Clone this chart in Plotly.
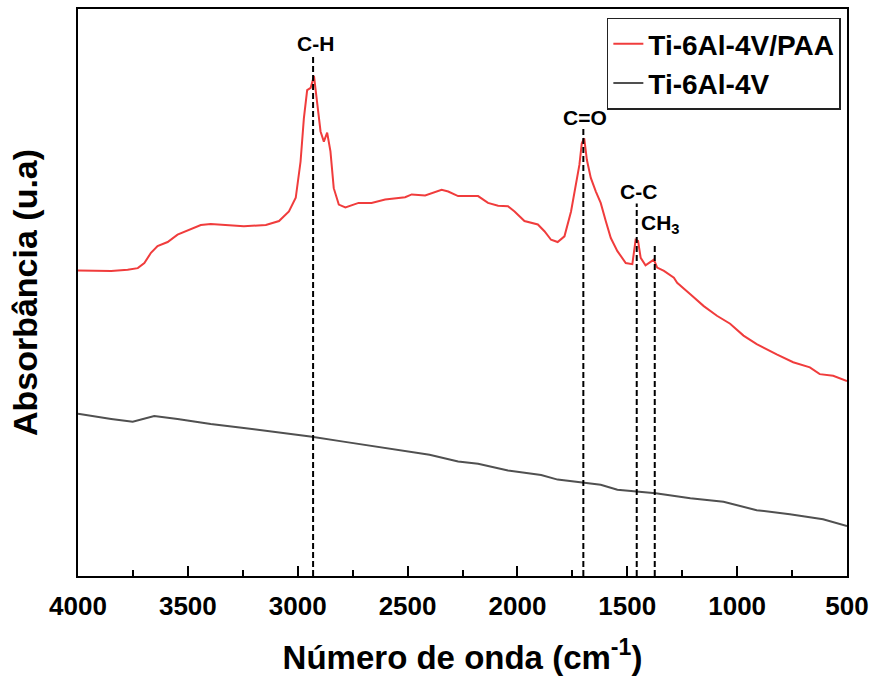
import plotly.graph_objects as go

# ---- data ----
paa_wavenumber = [4000, 3909, 3849, 3774, 3728, 3698, 3668, 3638, 3592, 3547, 3502, 3441, 3396, 3335, 3245,
                  3145, 3085, 3040, 3009, 2987, 2972, 2957, 2941, 2926, 2912, 2896, 2881, 2866, 2851, 2836,
                  2813, 2783, 2723, 2664, 2602, 2511, 2481, 2420, 2345, 2315, 2270, 2179, 2134, 2088, 2043,
                  2013, 1968, 1907, 1877, 1847, 1817, 1786, 1756, 1734, 1718, 1707, 1696, 1684, 1666, 1643,
                  1621, 1598, 1575, 1545, 1507, 1477, 1462, 1451, 1439, 1417, 1394, 1379, 1364, 1333, 1288,
                  1273, 1213, 1152, 1092, 1032, 971, 911, 820, 745, 669, 624, 563, 500]
paa_absorb = [0.539, 0.539, 0.538, 0.540, 0.543, 0.552, 0.570, 0.582, 0.589, 0.602, 0.609, 0.619, 0.621, 0.619, 0.617,
              0.619, 0.626, 0.643, 0.667, 0.731, 0.807, 0.857, 0.861, 0.882, 0.837, 0.784, 0.766, 0.782, 0.749, 0.684,
              0.655, 0.650, 0.658, 0.658, 0.664, 0.668, 0.673, 0.671, 0.681, 0.678, 0.670, 0.670, 0.658, 0.653, 0.652,
              0.643, 0.626, 0.620, 0.608, 0.593, 0.589, 0.599, 0.643, 0.690, 0.725, 0.763, 0.772, 0.734, 0.702, 0.678,
              0.658, 0.626, 0.596, 0.573, 0.552, 0.550, 0.593, 0.591, 0.561, 0.548, 0.554, 0.558, 0.544, 0.538, 0.526,
              0.517, 0.497, 0.476, 0.459, 0.445, 0.424, 0.409, 0.391, 0.377, 0.368, 0.356, 0.353, 0.344]

ti_wavenumber = [4000, 3909, 3849, 3751, 3698, 3653, 3547, 3396, 3245, 3094, 2943, 2792, 2641, 2490, 2400,
                 2270, 2179, 2043, 1892, 1817, 1699, 1621, 1545, 1454, 1371, 1213, 1062, 911, 760, 609, 500]
ti_absorb = [0.286, 0.280, 0.277, 0.272, 0.278, 0.282, 0.277, 0.268, 0.261, 0.254, 0.246, 0.237, 0.228, 0.220, 0.214,
             0.202, 0.198, 0.186, 0.178, 0.170, 0.164, 0.161, 0.152, 0.149, 0.146, 0.137, 0.131, 0.116, 0.109, 0.100, 0.088]

peak_wavenumber = [2930, 1700, 1457, 1375]
peak_labels = ["C-H", "C=O", "C-C", "CH<sub>3</sub>"]
peak_line_top = [0.919, 0.789, 0.657, 0.585]

x_ticks = [4000, 3500, 3000, 2500, 2000, 1500, 1000, 500]

FONT = "Liberation Sans, Arial, sans-serif"

fig = go.Figure()
fig.add_trace(go.Scatter(x=paa_wavenumber, y=paa_absorb, mode="lines", name="Ti-6Al-4V/PAA",
                         line=dict(color="#f03c3c", width=2)))
fig.add_trace(go.Scatter(x=ti_wavenumber, y=ti_absorb, mode="lines", name="Ti-6Al-4V",
                         line=dict(color="#505050", width=2)))

for wn, top, lab in zip(peak_wavenumber, peak_line_top, peak_labels):
    fig.add_shape(type="line", xref="x", yref="y", x0=wn, x1=wn, y0=0, y1=top,
                  line=dict(color="black", width=2, dash="6px,3px"))
    shift = 5 if "<sub>" in lab else -2
    fig.add_annotation(x=wn, y=top, xref="x", yref="y", text=lab, showarrow=False,
                       yanchor="bottom", xanchor="center", yshift=shift,
                       xshift=6 if "<sub>" in lab else 2,
                       font=dict(family=FONT, size=21, color="black", weight="bold"))

fig.update_layout(
    width=876, height=678,
    margin=dict(l=78, r=25, t=7, b=102),
    plot_bgcolor="white", paper_bgcolor="white",
    font=dict(family=FONT, color="black"),
    showlegend=True,
    legend=dict(x=0.992, y=0.985, xanchor="right", yanchor="top",
                bordercolor="#222222", borderwidth=1.5, bgcolor="white",
                font=dict(family=FONT, size=28, color="black", weight="bold")),
    xaxis=dict(range=[4000, 500], tickvals=x_ticks, ticks="inside", ticklen=10, tickwidth=2,
               tickcolor="black", showline=True, linecolor="black", linewidth=2, mirror=True,
               showgrid=False, zeroline=False,
               tickfont=dict(family=FONT, size=26, color="black", weight="bold"),
               ticklabelstandoff=6,
               minor=dict(dtick=250, ticks="inside", ticklen=6, tickwidth=2, tickcolor="black", showgrid=False),
               title=dict(text="Número de onda (cm<sup>-1</sup>)", standoff=26,
                          font=dict(family=FONT, size=33, color="black", weight="bold"))),
    yaxis=dict(range=[0, 1], showticklabels=False, ticks="", showline=True, linecolor="black",
               linewidth=2, mirror=True, showgrid=False, zeroline=False,
               title=dict(text="Absorbância (u.a)", standoff=28,
                          font=dict(family=FONT, size=34, color="black", weight="bold"))),
)

fig.write_html("out.html")
